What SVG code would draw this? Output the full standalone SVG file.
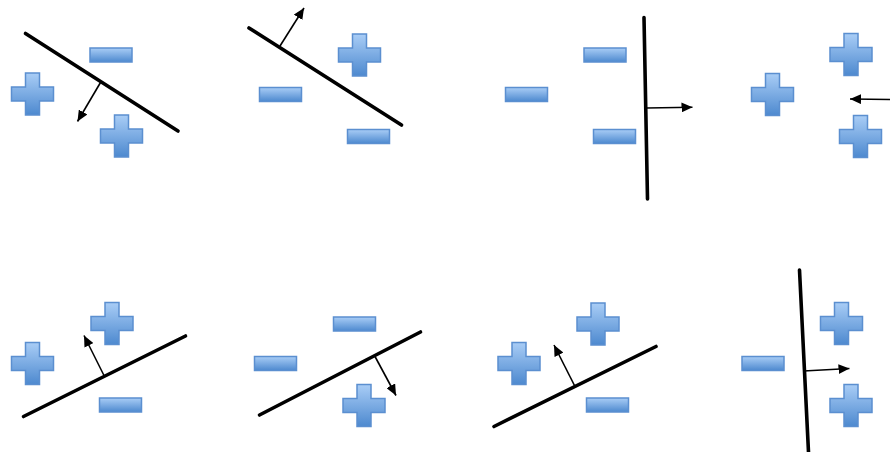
<svg xmlns="http://www.w3.org/2000/svg" width="890" height="452" viewBox="0 0 890 452">
<defs>
<linearGradient id="g" x1="0" y1="0" x2="0" y2="1">
<stop offset="0" stop-color="#a9cdf6"/>
<stop offset="1" stop-color="#4d89cf"/>
</linearGradient>
<marker id="ah" viewBox="0 0 10 9" refX="10" refY="4.5" markerWidth="11" markerHeight="10" markerUnits="userSpaceOnUse" orient="auto">
<path d="M0,0 L10,4.5 L0,9 z" fill="#000"/>
</marker>
</defs>
<style>
.s{fill:url(#g);stroke:#5b8fd0;stroke-width:1.5}
.sep{stroke:#000;stroke-width:3.6;stroke-linecap:round;fill:none}
.ar{stroke:#000;stroke-width:1.6;fill:none;marker-end:url(#ah)}
</style>
<rect width="890" height="452" fill="#fff"/>
<g id="nodes">
<g id="p1">
<path class="s" d="M25.5,73 h14 v14 h14 v14 h-14 v14 h-14 v-14 h-14 v-14 h14 z"/>
<rect class="s" x="90" y="48" width="42" height="14"/>
<path class="s" d="M114.5,115 h14 v14 h14 v14 h-14 v14 h-14 v-14 h-14 v-14 h14 z"/>
</g>
<g id="p2">
<path class="s" d="M352.5,34 h14 v14 h14 v14 h-14 v14 h-14 v-14 h-14 v-14 h14 z"/>
<rect class="s" x="259.5" y="87.5" width="42" height="14"/>
<rect class="s" x="347.5" y="129.5" width="42" height="14"/>
</g>
<g id="p3">
<rect class="s" x="584" y="48" width="42" height="14"/>
<rect class="s" x="505.5" y="87.5" width="42" height="14"/>
<rect class="s" x="593.5" y="129.5" width="42" height="14"/>
</g>
<g id="p4">
<path class="s" d="M844,33.5 h14 v14 h14 v14 h-14 v14 h-14 v-14 h-14 v-14 h14 z"/>
<path class="s" d="M765.5,73.5 h14 v14 h14 v14 h-14 v14 h-14 v-14 h-14 v-14 h14 z"/>
<path class="s" d="M853.5,115.5 h14 v14 h14 v14 h-14 v14 h-14 v-14 h-14 v-14 h14 z"/>
</g>
<g id="p5">
<path class="s" d="M105,302.5 h14 v14 h14 v14 h-14 v14 h-14 v-14 h-14 v-14 h14 z"/>
<path class="s" d="M25.5,342.5 h14 v14 h14 v14 h-14 v14 h-14 v-14 h-14 v-14 h14 z"/>
<rect class="s" x="99.5" y="398" width="42" height="14"/>
</g>
<g id="p6">
<rect class="s" x="333.5" y="317" width="42" height="14"/>
<rect class="s" x="254.5" y="356.5" width="42" height="14"/>
<path class="s" d="M357,384.5 h14 v14 h14 v14 h-14 v14 h-14 v-14 h-14 v-14 h14 z"/>
</g>
<g id="p7">
<path class="s" d="M591,303 h14 v14 h14 v14 h-14 v14 h-14 v-14 h-14 v-14 h14 z"/>
<path class="s" d="M512,342.5 h14 v14 h14 v14 h-14 v14 h-14 v-14 h-14 v-14 h14 z"/>
<rect class="s" x="586.5" y="398" width="42" height="14"/>
</g>
<g id="p8">
<rect class="s" x="742" y="356.5" width="42" height="14"/>
<path class="s" d="M834.5,302.5 h14 v14 h14 v14 h-14 v14 h-14 v-14 h-14 v-14 h14 z"/>
<path class="s" d="M844,384.5 h14 v14 h14 v14 h-14 v14 h-14 v-14 h-14 v-14 h14 z"/>
</g>
</g>
<g id="connectors">
<line class="sep" x1="25.5" y1="33.5" x2="178" y2="131"/>
<line class="ar" x1="100.5" y1="82.5" x2="77.5" y2="121.5"/>
<line class="sep" x1="249" y1="28" x2="401.5" y2="125"/>
<line class="ar" x1="280" y1="46" x2="304" y2="8"/>
<line class="sep" x1="644" y1="17.5" x2="647.5" y2="199"/>
<line class="ar" x1="646.5" y1="108" x2="692.5" y2="107.3"/>
<line class="ar" x1="892" y1="99.5" x2="850" y2="99"/>
<line class="sep" x1="23.5" y1="416.5" x2="185.5" y2="336"/>
<line class="ar" x1="104.5" y1="376.5" x2="84" y2="335.5"/>
<line class="sep" x1="259.5" y1="415" x2="420.5" y2="332"/>
<line class="ar" x1="375" y1="356.5" x2="396" y2="395.5"/>
<line class="sep" x1="494" y1="426.5" x2="656" y2="346.5"/>
<line class="ar" x1="575" y1="386.5" x2="554" y2="345"/>
<line class="sep" x1="799.5" y1="270" x2="808.5" y2="452"/>
<line class="ar" x1="803.5" y1="371" x2="849.5" y2="368.5"/>
</g>
</svg>
